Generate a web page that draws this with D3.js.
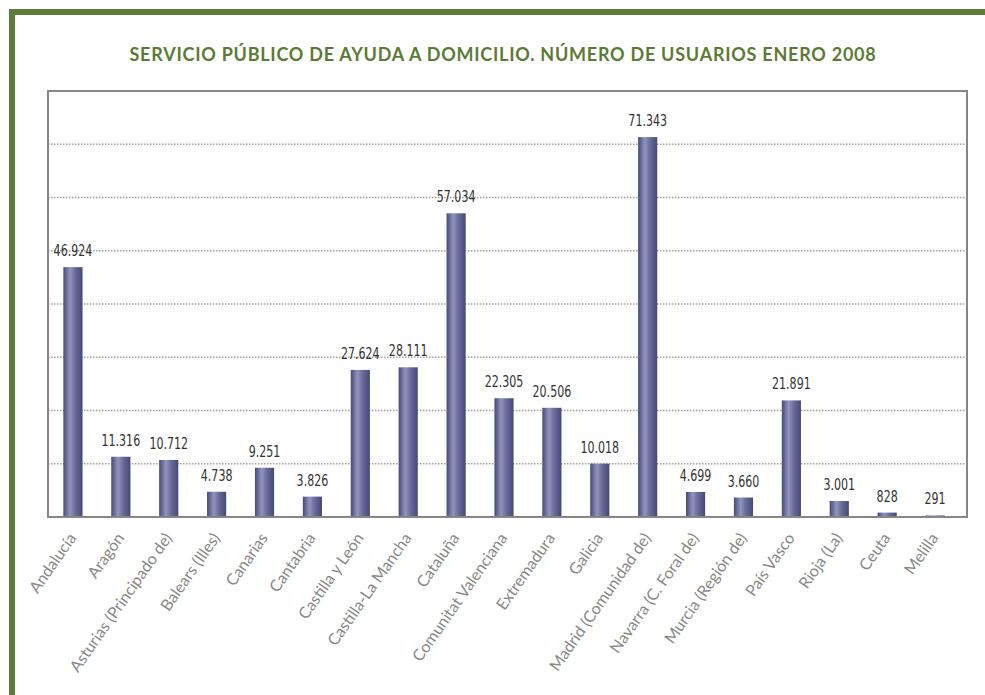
<!DOCTYPE html>
<html><head><meta charset="utf-8">
<script src="https://cdn.jsdelivr.net/npm/d3@7"></script>
<style>body{margin:0;background:#fff}svg{display:block}</style>
</head><body>
<script>
const title = "SERVICIO PÚBLICO DE AYUDA A DOMICILIO. NÚMERO DE USUARIOS ENERO 2008";
const categories = ["Andalucía","Aragón","Asturias (Principado de)","Balears (Illes)","Canarias","Cantabria","Castilla y León","Castilla-La Mancha","Cataluña","Comunitat Valenciana","Extremadura","Galicia","Madrid (Comunidad de)","Navarra (C. Foral de)","Murcia (Región de)","País Vasco","Rioja (La)","Ceuta","Melilla"];
const values = [46924,11316,10712,4738,9251,3826,27624,28111,57034,22305,20506,10018,71343,4699,3660,21891,3001,828,291];
const gridTicks = [10000,20000,30000,40000,50000,60000,70000];
const yMax = 80000;

const W = 985, H = 695;
const plot = {l:48, r:967, t:91, b:517};
const svg = d3.select("body").append("svg").attr("width",W).attr("height",H);

// frame
svg.append("rect").attr("x",9).attr("y",9).attr("width",W-9).attr("height",6).attr("fill","#5e7c3a");
svg.append("rect").attr("x",9).attr("y",9).attr("width",6).attr("height",H-9).attr("fill","#5e7c3a");

svg.append("text").attr("x",503).attr("y",61).attr("text-anchor","middle")
  .attr("font-family","Lato, 'Noto Sans', sans-serif").attr("font-weight","bold")
  .attr("font-size",18).attr("letter-spacing",0.75).attr("fill","#5b7b35").text(title);

const defs = svg.append("defs");
const g = defs.append("linearGradient").attr("id","bar").attr("x1","0").attr("x2","1").attr("y1","0").attr("y2","0");
[[0,"#464a75"],[0.35,"#9195be"],[0.6,"#6a6e9c"],[1,"#454973"]].forEach(s=>g.append("stop").attr("offset",s[0]).attr("stop-color",s[1]));

const x = d3.scaleBand().domain(categories).range([plot.l + 1, plot.r - 8]).paddingInner(0.6).paddingOuter(0.3);
const y = d3.scaleLinear().domain([0,yMax]).range([plot.b, plot.t]);

// gridlines
svg.append("g").selectAll("line").data(gridTicks).join("line")
  .attr("x1",plot.l).attr("x2",plot.r).attr("y1",d=>y(d)).attr("y2",d=>y(d))
  .attr("stroke","#a59f9f").attr("stroke-width",1.5).attr("stroke-dasharray","1.5,1.5");

// bars
svg.append("g").selectAll("rect").data(values).join("rect")
  .attr("x",(d,i)=>x(categories[i])).attr("width",x.bandwidth())
  .attr("y",d=>y(d)).attr("height",d=>y(0)-y(d)).attr("fill","url(#bar)");

// border
svg.append("rect").attr("x",plot.l).attr("y",plot.t).attr("width",plot.r-plot.l).attr("height",plot.b-plot.t)
  .attr("fill","none").attr("stroke","#8a8585").attr("stroke-width",2);

// value labels
const fmt = v => d3.format(",")(v).replace(/,/g,".");
svg.append("g").selectAll("text").data(values).join("text")
  .attr("transform",(d,i)=>`translate(${x(categories[i])+x.bandwidth()/2},${y(d)-11}) scale(0.82,1)`)
  .attr("text-anchor","middle").attr("font-family","'DejaVu Sans Condensed','DejaVu Sans',sans-serif")
  .attr("font-size",15).attr("fill","#333").text(fmt);

// x labels
svg.append("g").selectAll("text").data(categories).join("text")
  .attr("transform",d=>`translate(${x(d)+x.bandwidth()/2+4},${plot.b+21}) rotate(-55)`)
  .attr("text-anchor","end").attr("font-family","Lato, 'Open Sans', sans-serif")
  .attr("font-size",16).attr("fill","#888").text(d=>d);
</script>
</body></html>
